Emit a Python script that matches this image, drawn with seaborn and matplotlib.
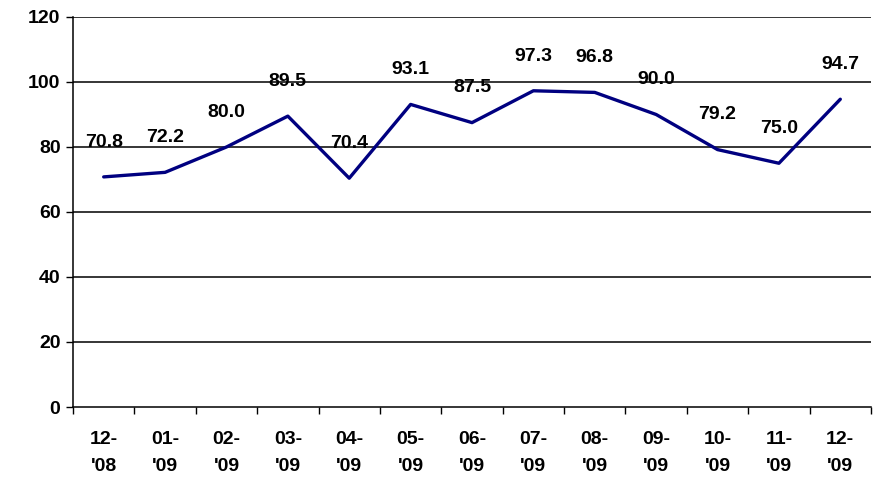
import numpy as np
import pandas as pd
import seaborn as sns
import matplotlib.pyplot as plt
from matplotlib.ticker import FixedLocator, NullFormatter, FixedFormatter

months = ["12-\n'08", "01-\n'09", "02-\n'09", "03-\n'09", "04-\n'09", "05-\n'09", "06-\n'09",
          "07-\n'09", "08-\n'09", "09-\n'09", "10-\n'09", "11-\n'09", "12-\n'09"]
values = [70.8, 72.2, 80.0, 89.5, 70.4, 93.1, 87.5, 97.3, 96.8, 90.0, 79.2, 75.0, 94.7]

sns.set_style("white")
plt.rcParams['font.family'] = ['Liberation Sans', 'DejaVu Sans']
plt.rcParams['font.weight'] = 'bold'
plt.rcParams['text.color'] = 'black'
plt.rcParams['xtick.color'] = 'black'
plt.rcParams['ytick.color'] = 'black'
plt.rcParams['xtick.labelcolor'] = 'black'
plt.rcParams['ytick.labelcolor'] = 'black'

FS = 14

df = pd.DataFrame({'pos': np.arange(len(months)) + 0.5, 'value': values})

fig = plt.figure(figsize=(8.84, 4.79), dpi=100)
ax = fig.add_axes([73 / 884, 1 - 407 / 479, 798 / 884, 390 / 479])

# grid lines first so the line sits on top
for g in range(20, 121, 20):
    ax.axhline(g, color='black', lw=1.1, zorder=1)

sns.lineplot(data=df, x='pos', y='value', color='#000080', lw=2.4, ax=ax, zorder=3)

for p, v in zip(df['pos'], values):
    ax.annotate(f"{v:.1f}", (p, v), xytext=(0, 25), textcoords='offset points',
                ha='center', va='center', fontsize=FS, fontweight='bold', color='black', zorder=4)

ax.set_xlim(0, len(months))
ax.set_ylim(0, 120)
ax.set_yticks(range(0, 121, 20))
ax.tick_params(axis='y', labelsize=FS, length=5, width=1, color='black', direction='out', left=True, pad=4)

ax.xaxis.set_major_locator(FixedLocator(range(0, len(months) + 1)))
ax.xaxis.set_major_formatter(NullFormatter())
ax.xaxis.set_minor_locator(FixedLocator(df['pos']))
ax.xaxis.set_minor_formatter(FixedFormatter(months))
ax.tick_params(axis='x', which='major', length=5, width=1, color='black', direction='out', bottom=True)
ax.tick_params(axis='x', which='minor', length=0, labelsize=FS, pad=17)
for lbl in ax.get_xticklabels(minor=True):
    lbl.set_linespacing(1.8)
    lbl.set_fontweight('bold')
for lbl in ax.get_yticklabels():
    lbl.set_fontweight('bold')

ax.set_xlabel('')
ax.set_ylabel('')
for s in ['top', 'right']:
    ax.spines[s].set_visible(False)
for s in ['left', 'bottom']:
    ax.spines[s].set_color('black')
    ax.spines[s].set_linewidth(1.1)

fig.savefig('out.png', dpi=100)
